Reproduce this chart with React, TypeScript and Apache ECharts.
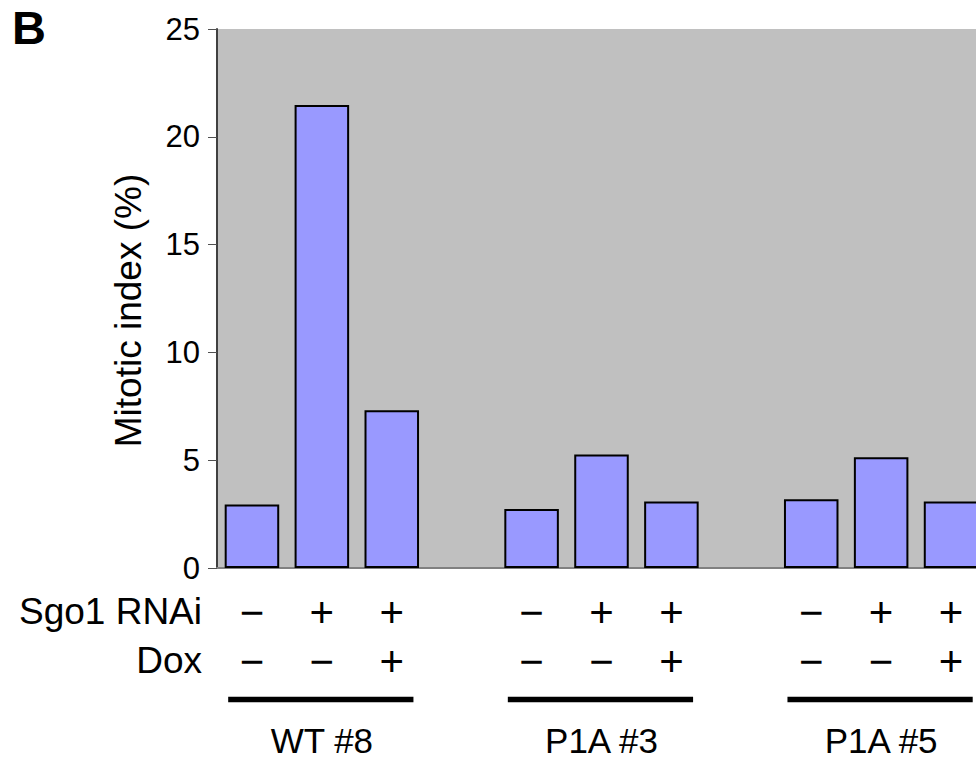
import React, { useEffect, useRef } from "react";
import * as echarts from "echarts";

// ---- data ----
const slots = ["WT8-a", "WT8-b", "WT8-c", "gap1", "P1A3-a", "P1A3-b", "P1A3-c", "gap2", "P1A5-a", "P1A5-b", "P1A5-c"];
const mitoticIndex: (number | null)[] = [2.95, 21.48, 7.32, null, 2.74, 5.26, 3.08, null, 3.19, 5.14, 3.08];
const sgo1RNAi = ["−", "+", "+", "", "−", "+", "+", "", "−", "+", "+"];
const dox = ["−", "−", "+", "", "−", "−", "+", "", "−", "−", "+"];
const groupLabels = ["", "WT #8", "", "", "", "P1A #3", "", "", "", "P1A #5", ""];
const groupSpans = [
  [0, 2],
  [4, 6],
  [8, 10],
];
const yMin = 0;
const yMax = 25;
const yInterval = 5;

const FONT = "'Liberation Sans', Arial, Helvetica, sans-serif";

export default function App() {
  const ref = useRef<HTMLDivElement>(null);
  useEffect(() => {
    if (!ref.current) return;
    const chart = echarts.init(ref.current, undefined, { renderer: "svg" });
    const hiddenAxis = (
      data: string[],
      offset: number,
      fontSize: number,
      lineHeight: number,
      vAlign: string,
      name?: string
    ) => ({
      type: "category",
      data,
      gridIndex: 0,
      position: "bottom",
      offset,
      axisLine: { show: false },
      axisTick: { show: false },
      splitLine: { show: false },
      axisLabel: {
        interval: 0,
        margin: 0,
        color: "#000",
        fontSize,
        lineHeight,
        fontFamily: FONT,
        verticalAlign: vAlign,
      },
      name,
      nameLocation: "start",
      nameGap: 15,
      nameTextStyle: {
        color: "#000",
        fontSize: 37,
        fontFamily: FONT,
        verticalAlign: "top",
        align: "right",
        padding: [2, 0, 0, 0],
      },
    });
    chart.setOption({
      animation: false,
      backgroundColor: "#ffffff",
      title: {
        text: "B",
        left: 7,
        top: -1,
        textStyle: { fontSize: 47, fontWeight: "bold", color: "#000", fontFamily: FONT },
      },
      grid: {
        left: 217,
        top: 29,
        right: 14,
        bottom: 193,
        show: true,
        backgroundColor: "#c0c0c0",
        borderWidth: 0,
        outerBoundsMode: "none",
        containLabel: false,
      },
      xAxis: [
        {
          type: "category",
          data: slots,
          axisLine: { show: true, lineStyle: { color: "#808080", width: 2 } },
          axisTick: { show: false },
          axisLabel: { show: false },
          splitLine: { show: false },
        },
        hiddenAxis(sgo1RNAi, 23, 42, 42, "top", "Sgo1 RNAi"),
        hiddenAxis(dox, 72, 42, 42, "top", "Dox"),
        hiddenAxis(groupLabels, 172, 35, 30, "middle"),
      ],
      yAxis: {
        type: "value",
        min: yMin,
        max: yMax,
        interval: yInterval,
        name: "Mitotic index (%)",
        nameLocation: "middle",
        nameGap: 70,
        nameTextStyle: { color: "#000", fontSize: 37, fontFamily: FONT, padding: [0, 24, 0, 0] },
        axisLine: { show: true, lineStyle: { color: "#404040", width: 2 } },
        axisTick: { show: true, length: 9, lineStyle: { color: "#505050", width: 1 } },
        axisLabel: { color: "#000", fontSize: 31, fontFamily: FONT, margin: 17 },
        splitLine: { show: false },
      },
      series: [
        {
          type: "bar",
          data: mitoticIndex.map((v) => (v === null ? "-" : v)),
          barCategoryGap: "22%",
          itemStyle: { color: "#9999ff", borderColor: "#000000", borderWidth: 2 },
        },
        {
          type: "custom",
          xAxisIndex: 0,
          yAxisIndex: 0,
          clip: false,
          silent: true,
          data: groupSpans,
          renderItem: (_params: any, api: any) => {
            const s = api.coord([api.value(0), 0]);
            const e = api.coord([api.value(1), 0]);
            const w = api.size([1, 0])[0];
            const y = s[1] + 131.5;
            return {
              type: "line",
              shape: { x1: s[0] - 0.34 * w, y1: y, x2: e[0] + 0.31 * w, y2: y },
              style: { stroke: "#000", lineWidth: 5.5 },
            };
          },
        },
      ],
    });
    return () => chart.dispose();
  }, []);
  return (
    <div
      style={{
        position: "fixed",
        left: 0,
        top: 0,
        width: 976,
        height: 761,
        overflow: "hidden",
        background: "#fff",
      }}
    >
      <div ref={ref} style={{ width: 1000, height: 761 }} />
    </div>
  );
}
